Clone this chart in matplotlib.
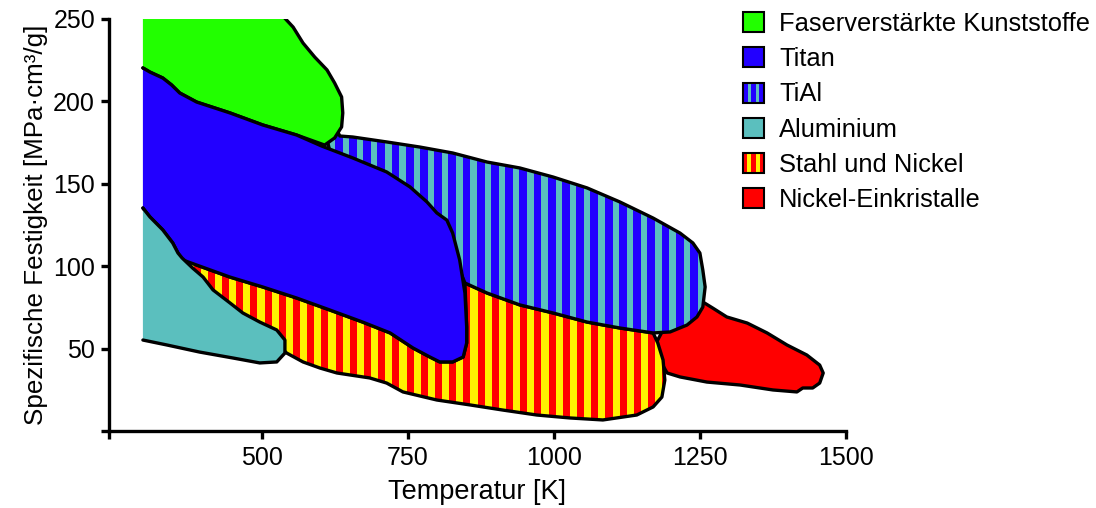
import numpy as np
import matplotlib
matplotlib.use('Agg')
import matplotlib.pyplot as plt
from matplotlib.patches import Polygon, Rectangle, Patch
from matplotlib.legend_handler import HandlerBase

plt.rcParams['font.family'] = ['Liberation Sans', 'DejaVu Sans']

# Umrisse der Werkstoffbereiche: Temperatur [K] / spez. Festigkeit [MPa*cm3/g]
gfk_x = [297, 525, 538, 554, 571, 591, 612, 625, 637, 639, 637, 625, 608,
         560, 502, 446, 389, 360, 346, 331, 309, 297]
gfk_y = [260, 260, 251.2, 245.1, 235.4, 226.9, 219.1, 211.2, 202.7, 193.0, 184.5, 177.8, 173.5,
         179.6, 185.7, 193.0, 199.6, 205.1, 210.0, 214.2, 217.8, 220.3]

titan_x = [297, 309, 331, 346, 360, 389, 446, 502, 560, 603, 656, 714, 754, 783, 800, 817,
           827, 839, 848, 851, 851, 845, 827, 805, 788, 759, 720, 673, 617, 560, 502, 446,
           389, 365, 357, 348, 331, 309, 297]
titan_y = [220.3, 217.8, 214.2, 210.0, 205.1, 199.6, 193.0, 185.7, 179.6, 172.9, 165.7, 157.2,
           148.1, 139.0, 132.3, 128.0, 120.1, 103.8, 83.7, 63.1, 53.4, 44.9, 41.9, 41.9, 44.9,
           50.4, 59.5, 66.1, 73.4, 80.7, 87.4, 93.4, 100.7, 103.8, 108.0, 114.1, 122.0, 129.9, 135.3]

tial_x = [625, 634, 656, 714, 771, 827, 886, 942, 999, 1057, 1113, 1170, 1216, 1238, 1250,
          1255, 1259, 1255, 1245, 1228, 1199, 1170, 1113, 1057, 999, 942, 886, 848,
          825, 800, 700, 620, 610]
tial_y = [185, 179, 178.4, 175.4, 172.3, 168.7, 163.2, 159.6, 154.1, 147.5, 139.0, 129.2, 120.1,
          114.1, 108.0, 97.7, 87.4, 75.2, 69.2, 64.3, 60.1, 59.5, 62.5, 66.1, 71.6, 76.5, 83.7,
          89.8, 110, 120, 150, 165, 180]

alu_x = [297, 309, 331, 348, 357, 364, 382, 400, 417, 446, 468, 497, 526, 540, 540, 526,
         497, 451, 394, 338, 297]
alu_y = [135.3, 129.9, 122.0, 114.1, 108.0, 105.0, 98.9, 93.4, 85.6, 77.7, 71.6, 66.1, 61.3,
         55.2, 47.3, 41.9, 41.3, 44.3, 47.9, 52.2, 55.2]

stahl_x = [364, 389, 446, 502, 560, 617, 673, 720, 759, 788, 805, 827, 845, 851, 851, 848,
           886, 942, 999, 1057, 1113, 1170, 1178, 1187, 1190, 1185, 1170, 1142, 1084, 1028,
           971, 913, 857, 800, 742, 714, 685, 629, 600, 571, 543, 510, 440, 390, 360]
stahl_y = [105.0, 100.7, 93.4, 87.4, 80.7, 73.4, 66.1, 59.5, 50.4, 44.9, 41.9, 41.9, 44.9,
           53.4, 63.1, 89.8, 83.7, 76.5, 71.6, 66.1, 62.5, 59.5, 53.4, 43.1, 30.9, 20.6, 14.6,
           9.7, 6.7, 7.9, 9.7, 12.7, 15.8, 18.8, 23.7, 29.1, 32.2, 35.2, 38.2, 41.9, 47.3,
           58, 75, 92, 103]

ni_x = [1255, 1272, 1296, 1331, 1365, 1399, 1433, 1455, 1461, 1455, 1443, 1426, 1416, 1375,
        1319, 1262, 1216, 1194, 1170, 1200, 1240]
ni_y = [78.3, 74.6, 69.2, 65.5, 59.5, 52.2, 46.1, 40.0, 35.2, 29.1, 26.1, 26.1, 23.7, 24.9,
        27.9, 29.7, 32.8, 35.2, 50, 70, 80]

labels = ['Faserverstärkte Kunststoffe', 'Titan', 'TiAl', 'Aluminium',
          'Stahl und Nickel', 'Nickel-Einkristalle']

GREEN = '#22ff00'
BLUE = '#2200ff'
TEAL = '#5bbfbe'
RED = '#ff0000'
YELLOW = '#fff200'

fig = plt.figure(figsize=(10.96, 5.08), dpi=100)
ax = fig.add_axes([109 / 1096, 77 / 508, 737 / 1096, 412 / 508])
ax.set_xlim(239, 1500)
ax.set_ylim(0, 250)

LW = 2.4
period = 24.3


def region(xs, ys, color, z, stripe=None, frac=0.5, open_left=False):
    pts = np.column_stack([xs, ys])
    poly = Polygon(pts, closed=True, facecolor=color, edgecolor='none', zorder=z)
    ax.add_patch(poly)
    if stripe is not None:
        for x0 in np.arange(250, 1500, period):
            r = Rectangle((x0, -10), period * frac, 280, facecolor=stripe,
                          edgecolor='none', zorder=z + 0.1)
            ax.add_patch(r)
            r.set_clip_path(poly)
    if open_left:
        ax.plot(xs, ys, color='black', lw=LW, zorder=z + 0.2,
                solid_joinstyle='round', solid_capstyle='round')
    else:
        ax.plot(list(xs) + [xs[0]], list(ys) + [ys[0]], color='black', lw=LW,
                zorder=z + 0.2, solid_joinstyle='round')


region(ni_x, ni_y, RED, 1)
region(stahl_x, stahl_y, RED, 2, stripe=YELLOW, frac=0.5)
region(tial_x, tial_y, BLUE, 3, stripe=TEAL, frac=0.45)
region(gfk_x, gfk_y, GREEN, 4, open_left=True)
region(titan_x, titan_y, BLUE, 5, open_left=True)
region(alu_x, alu_y, TEAL, 6, open_left=True)

for s in ['top', 'right']:
    ax.spines[s].set_visible(False)
for s in ['left', 'bottom']:
    ax.spines[s].set_linewidth(2.4)

ax.set_xticks([239, 500, 750, 1000, 1250, 1500])
ax.set_xticklabels(['', '500', '750', '1000', '1250', '1500'])
ax.set_yticks([0, 50, 100, 150, 200, 250])
ax.set_yticklabels(['', '50', '100', '150', '200', '250'])
ax.tick_params(direction='out', length=6, width=2.4, labelsize=18)
ax.tick_params(axis='x', pad=5)
ax.tick_params(axis='y', pad=4)
ax.set_xlabel('Temperatur [K]', fontsize=19.5, labelpad=6)
ax.set_ylabel('Spezifische Festigkeit [MPa·cm³/g]', fontsize=18.7, labelpad=4)


class StripeHandler(HandlerBase):
    def __init__(self, base, stripe, pos, w):
        super().__init__()
        self.base, self.stripe, self.pos, self.w = base, stripe, pos, w

    def create_artists(self, legend, orig_handle, xdescent, ydescent,
                       width, height, fontsize, trans):
        x0, y0 = -xdescent, -ydescent
        arts = [Rectangle((x0, y0), width, height, facecolor=self.base,
                          edgecolor='none', transform=trans)]
        for p in self.pos:
            arts.append(Rectangle((x0 + p * width, y0), self.w * width, height,
                                  facecolor=self.stripe, edgecolor='none', transform=trans))
        arts.append(Rectangle((x0, y0), width, height, facecolor='none',
                              edgecolor='black', lw=1.5, transform=trans))
        return arts


handles = [Patch(facecolor=GREEN, edgecolor='black', lw=1.5),
           Patch(facecolor=BLUE, edgecolor='black', lw=1.5),
           Patch(facecolor=BLUE),
           Patch(facecolor=TEAL, edgecolor='black', lw=1.5),
           Patch(facecolor=RED),
           Patch(facecolor=RED, edgecolor='black', lw=1.5)]
hmap = {handles[2]: StripeHandler(BLUE, TEAL, (0.25, 0.62), 0.12),
        handles[4]: StripeHandler(RED, YELLOW, (0.2, 0.6), 0.2)}

fig.legend(handles, labels, handler_map=hmap, loc='upper left',
           bbox_to_anchor=(743 / 1096, 1 - 12 / 508), frameon=False,
           fontsize=18.4, handlelength=0.83, handleheight=0.83,
           handletextpad=0.58, labelspacing=0.44, borderpad=0, borderaxespad=0)

fig.savefig('out.png', dpi=100)
